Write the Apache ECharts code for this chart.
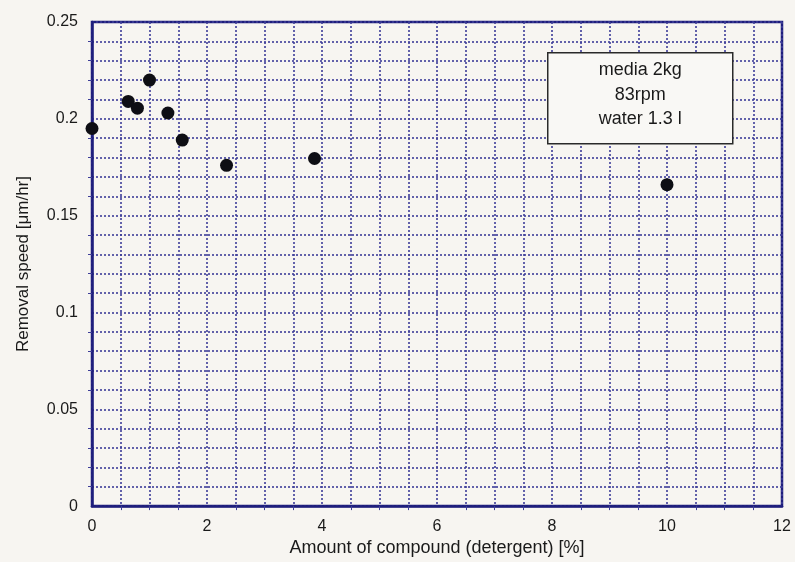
<!DOCTYPE html>
<html>
<head>
<meta charset="utf-8">
<script src="https://cdn.jsdelivr.net/npm/echarts@6/dist/echarts.min.js"></script>
<style>
html,body{margin:0;padding:0;background:#f7f5f1;}
#c{width:795px;height:562px;}
</style>
</head>
<body>
<div id="c"></div>
<script>
const compoundPct = [0, 0.63, 0.79, 1.0, 1.32, 1.57, 2.34, 3.87, 10.0];
const removalSpeed = [0.195, 0.209, 0.2055, 0.220, 0.203, 0.189, 0.176, 0.1795, 0.166];
const xAxisName = 'Amount of compound (detergent) [%]';
const yAxisName = 'Removal speed [\u03bcm/hr]';
const noteLines = ['media 2kg', '83rpm', 'water 1.3 l'];

const points = compoundPct.map((x, i) => [x, removalSpeed[i]]);
const gridColor = '#3e3e98';
const font = '"Liberation Sans", Arial, sans-serif';

const chart = echarts.init(document.getElementById('c'));
chart.setOption({
  backgroundColor: '#f7f5f1',
  animation: false,
  textStyle: { fontFamily: font },
  grid: {
    left: 92, right: 13, top: 22, bottom: 48,
    show: true, borderColor: '#1e1e7c', borderWidth: 2.5, backgroundColor: 'transparent'
  },
  xAxis: {
    type: 'value', min: 0, max: 12, interval: 2,
    name: xAxisName, nameLocation: 'middle', nameGap: 32,
    nameTextStyle: { fontSize: 18, color: '#1a1a1a', fontFamily: font },
    axisLine: { show: true, lineStyle: { color: '#1e1e7c', width: 2.5 } },
    axisTick: { show: false },
    axisLabel: { fontSize: 16, color: '#1a1a1a', margin: 12, fontFamily: font },
    splitLine: { show: true, lineStyle: { color: gridColor, width: 1.6, type: [2, 2] } },
    minorTick: { show: true, splitNumber: 4, length: 4, lineStyle: { color: gridColor } },
    minorSplitLine: { show: true, lineStyle: { color: gridColor, width: 1.6, type: [2, 2] } }
  },
  yAxis: {
    type: 'value', min: 0, max: 0.25, interval: 0.05,
    name: yAxisName, nameLocation: 'middle', nameGap: 60,
    nameTextStyle: { fontSize: 17, color: '#1a1a1a', fontFamily: font },
    axisLine: { show: true, lineStyle: { color: '#1e1e7c', width: 2.5 } },
    axisTick: { show: false },
    axisLabel: { fontSize: 16, color: '#1a1a1a', margin: 14, fontFamily: font },
    splitLine: { show: true, lineStyle: { color: gridColor, width: 1.6, type: [2, 2] } },
    minorTick: { show: true, splitNumber: 5, length: 4, lineStyle: { color: gridColor } },
    minorSplitLine: { show: true, lineStyle: { color: gridColor, width: 1.6, type: [2, 2] } }
  },
  series: [{
    type: 'scatter',
    data: points,
    symbol: 'circle',
    symbolSize: 13,
    itemStyle: { color: '#0e0e14', opacity: 1 },
    z: 5
  }],
  graphic: [{
    type: 'group',
    left: 547, top: 52, z: 100,
    children: [
      { type: 'rect', z: 100, shape: { x: 0, y: 0, width: 185, height: 91 },
        style: { fill: '#f9f8f5', stroke: '#2a2a2a', lineWidth: 1.5 } },
      { type: 'text', z: 101, style: { x: 92.5, y: 17, text: noteLines[0], textAlign: 'center', textVerticalAlign: 'middle',
        fontSize: 18, fill: '#1a1a1a', fontFamily: font } },
      { type: 'text', z: 101, style: { x: 92.5, y: 42, text: noteLines[1], textAlign: 'center', textVerticalAlign: 'middle',
        fontSize: 18, fill: '#1a1a1a', fontFamily: font } },
      { type: 'text', z: 101, style: { x: 92.5, y: 66, text: noteLines[2], textAlign: 'center', textVerticalAlign: 'middle',
        fontSize: 18, fill: '#1a1a1a', fontFamily: font } }
    ]
  }]
});
</script>
</body>
</html>
